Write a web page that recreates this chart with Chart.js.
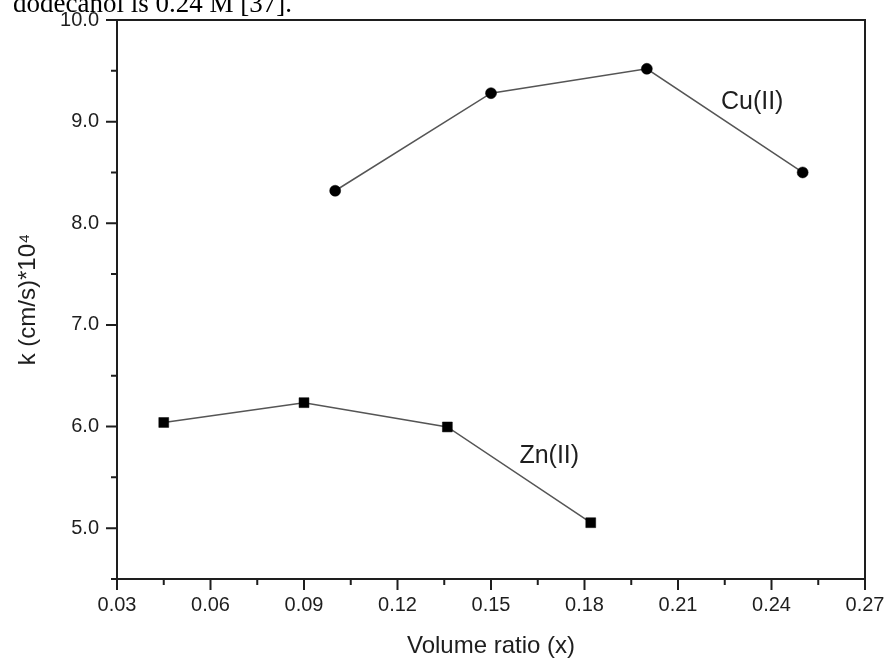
<!DOCTYPE html>
<html>
<head>
<meta charset="utf-8">
<script src="https://cdn.jsdelivr.net/npm/chart.js@4.4.1/dist/chart.umd.min.js"></script>
<style>
  html, body { margin: 0; padding: 0; background: #ffffff; }
  #wrap { width: 889px; height: 664px; }
</style>
</head>
<body>
<div id="wrap"><canvas id="c" width="889" height="664"></canvas></div>
<script>
// ---- data ----
const xTicks = [0.03, 0.06, 0.09, 0.12, 0.15, 0.18, 0.21, 0.24, 0.27];
const xTickLabels = ['0.03', '0.06', '0.09', '0.12', '0.15', '0.18', '0.21', '0.24', '0.27'];
const xMinorTicks = [0.045, 0.075, 0.105, 0.135, 0.165, 0.195, 0.225, 0.255];
const yTicks = [5, 6, 7, 8, 9, 10];
const yTickLabels = ['5.0', '6.0', '7.0', '8.0', '9.0', '10.0'];
const yMinorTicks = [4.5, 5.5, 6.5, 7.5, 8.5, 9.5];

const cuX = [0.10, 0.15, 0.20, 0.25];
const cuY = [8.32, 9.28, 9.52, 8.50];
const znX = [0.045, 0.09, 0.136, 0.182];
const znY = [6.04, 6.235, 5.996, 5.054];

const seriesNames = ['Cu(II)', 'Zn(II)'];
const xTitle = 'Volume ratio (x)';
const yTitle = 'k (cm/s)*10\u2074';
const captionText = 'dodecanol is 0.24 M [37].';

const SANS = '"Liberation Sans", Arial, Helvetica, sans-serif';
const SERIF = '"Liberation Serif", "Times New Roman", serif';
const INK = '#1e1e1e';

const toPts = (xs, ys) => xs.map((x, i) => ({ x: x, y: ys[i] }));

const framePlugin = {
  id: 'frame',
  afterDraw(chart) {
    const { ctx, chartArea: a, scales } = chart;
    const xs = scales.x, ys = scales.y;
    ctx.save();
    ctx.strokeStyle = INK;
    ctx.lineWidth = 2;
    ctx.beginPath();
    ctx.rect(a.left, a.top, a.right - a.left, a.bottom - a.top);
    ctx.stroke();
    ctx.beginPath();
    xTicks.forEach(v => { const p = xs.getPixelForValue(v); ctx.moveTo(p, a.bottom); ctx.lineTo(p, a.bottom + 11); });
    xMinorTicks.forEach(v => { const p = xs.getPixelForValue(v); ctx.moveTo(p, a.bottom); ctx.lineTo(p, a.bottom + 6); });
    yTicks.forEach(v => { const p = ys.getPixelForValue(v); ctx.moveTo(a.left, p); ctx.lineTo(a.left - 11, p); });
    yMinorTicks.forEach(v => { const p = ys.getPixelForValue(v); ctx.moveTo(a.left, p); ctx.lineTo(a.left - 6, p); });
    ctx.stroke();

    // series labels placed in data space
    ctx.fillStyle = INK;
    ctx.font = '25px ' + SANS;
    ctx.textAlign = 'center';
    ctx.textBaseline = 'middle';
    ctx.fillText(seriesNames[0], xs.getPixelForValue(0.2338), ys.getPixelForValue(9.19));
    ctx.fillText(seriesNames[1], xs.getPixelForValue(0.1687), ys.getPixelForValue(5.71));

    // cropped caption from the page above the figure
    ctx.fillStyle = '#000';
    ctx.font = '27px ' + SERIF;
    ctx.textAlign = 'left';
    ctx.textBaseline = 'alphabetic';
    ctx.fillText(captionText, 13, 12);
    ctx.restore();
  }
};

new Chart(document.getElementById('c'), {
  type: 'scatter',
  data: {
    datasets: [
      {
        label: seriesNames[0],
        data: toPts(cuX, cuY),
        showLine: true,
        borderColor: '#555555',
        borderWidth: 1.5,
        pointStyle: 'circle',
        pointRadius: 5.5,
        pointHoverRadius: 5.5,
        pointBackgroundColor: '#000',
        pointBorderColor: '#000',
        pointBorderWidth: 0.5
      },
      {
        label: seriesNames[1],
        data: toPts(znX, znY),
        showLine: true,
        borderColor: '#555555',
        borderWidth: 1.5,
        pointStyle: 'rect',
        pointRadius: 7,
        pointHoverRadius: 7,
        pointBackgroundColor: '#000',
        pointBorderColor: '#000',
        pointBorderWidth: 0.5
      }
    ]
  },
  options: {
    responsive: false,
    animation: false,
    devicePixelRatio: 1,
    events: [],
    layout: { padding: { top: 20, right: 24, left: 0, bottom: 0 } },
    plugins: { legend: { display: false }, tooltip: { enabled: false } },
    scales: {
      x: {
        type: 'linear',
        min: 0.03,
        max: 0.27,
        afterBuildTicks: s => { s.ticks = xTicks.map(v => ({ value: v })); },
        afterFit: s => { s.height = 85; s.paddingLeft = 0; s.paddingRight = 0; s.paddingTop = 0; s.paddingBottom = 0; },
        grid: { display: false, drawTicks: false },
        border: { display: false },
        ticks: {
          padding: 14,
          maxRotation: 0,
          autoSkip: false,
          color: INK,
          font: { family: SANS, size: 20 },
          callback: (v, i) => xTickLabels[i]
        },
        title: {
          display: true,
          text: xTitle,
          color: INK,
          font: { family: SANS, size: 24 },
          padding: { top: 0, bottom: 3 }
        }
      },
      y: {
        type: 'linear',
        min: 4.5,
        max: 10,
        afterBuildTicks: s => { s.ticks = yTicks.map(v => ({ value: v })); },
        afterFit: s => { s.width = 117; s.paddingLeft = 0; s.paddingRight = 0; s.paddingTop = 0; s.paddingBottom = 0; },
        grid: { display: false, drawTicks: false },
        border: { display: false },
        ticks: {
          padding: 18,
          autoSkip: false,
          color: INK,
          font: { family: SANS, size: 20 },
          callback: (v, i) => yTickLabels[i]
        },
        title: {
          display: true,
          text: yTitle,
          color: INK,
          font: { family: SANS, size: 24 },
          padding: { top: 13.6, bottom: 0 }
        }
      }
    }
  },
  plugins: [framePlugin]
});
</script>
</body>
</html>
